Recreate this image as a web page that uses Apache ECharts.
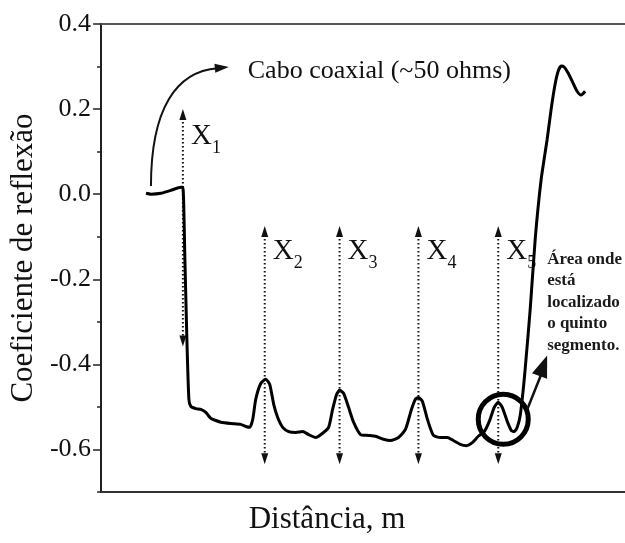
<!DOCTYPE html>
<html>
<head>
<meta charset="utf-8">
<script src="https://cdn.jsdelivr.net/npm/echarts@6/dist/echarts.min.js"></script>
<style>
  html, body { margin: 0; padding: 0; background: #fff; }
  #chart { width: 625px; height: 543px; }
</style>
</head>
<body>
<div id="chart"></div>
<script>
// TDR trace along the cable: distance (arbitrary units) vs reflection coefficient
const distance = [9, 10, 12, 14, 16, 16.4, 16.8, 17.2, 17.6, 18, 19, 20, 21, 22, 23, 24, 26, 28, 29, 29.8,
  30.4, 31, 32, 33, 33.8, 34.6, 35.4, 36.4, 37.6, 39, 40.4, 41.6, 43, 44.4, 45.6, 46.4, 47.2, 47.8, 48.6, 49.6,
  50.6, 52, 53.6, 55, 56.6, 58, 59.6, 61, 62.2, 63, 63.6, 64.4, 65.4, 66.6, 68, 69.4, 70.6, 72, 73.2, 74.4,
  75.6, 76.8, 77.8, 78.8, 79.6, 80.4, 81.4, 82.2, 82.8, 83.4, 84, 84.6, 85, 86, 87, 88.2, 89.4, 90.2, 91, 91.6,
  92.2, 92.8, 93.6, 94.6, 95.4, 96.2, 97];
const reflection = [0.002, 0.0, 0.002, 0.009, 0.016, 0.016, -0.153, -0.341, -0.482, -0.499, -0.504, -0.506, -0.513, -0.527, -0.532, -0.536, -0.539, -0.541, -0.546, -0.548,
  -0.529, -0.482, -0.445, -0.435, -0.447, -0.494, -0.525, -0.548, -0.558, -0.560, -0.558, -0.565, -0.572, -0.562, -0.548, -0.506, -0.471, -0.461, -0.468, -0.501,
  -0.536, -0.565, -0.567, -0.569, -0.576, -0.579, -0.572, -0.553, -0.506, -0.482, -0.478, -0.487, -0.529, -0.567, -0.572, -0.572, -0.579, -0.588, -0.591, -0.584,
  -0.569, -0.558, -0.534, -0.501, -0.489, -0.501, -0.534, -0.555, -0.558, -0.548, -0.52, -0.46, -0.41, -0.271, -0.106, 0.035, 0.129, 0.2, 0.259, 0.289,
  0.301, 0.299, 0.285, 0.261, 0.242, 0.233, 0.242];

// Axis ticks
const yLabelTicks = [-0.6, -0.4, -0.2, 0, 0.2, 0.4];
const yMinorTicks = [-0.7, -0.5, -0.3, -0.1, 0.1, 0.3];

// Segment boundaries X1..X5 (distance)
const segmentPositions = [16.4, 32.8, 47.8, 63.6, 79.6];
const segmentNames = ['1', '2', '3', '4', '5'];

const serif = '"Liberation Serif", "Times New Roman", serif';
const ink = '#111';

const chart = echarts.init(document.getElementById('chart'), null, { renderer: 'canvas' });

chart.setOption({
  animation: false,
  backgroundColor: '#fff',
  grid: { left: 100, right: 0, top: 24, bottom: 51 },
  xAxis: [
    {
      type: 'value', min: 0, max: 105, position: 'bottom',
      axisLine: { show: true, onZero: false, lineStyle: { color: '#333', width: 2 } },
      axisTick: { show: false }, axisLabel: { show: false }, splitLine: { show: false },
      name: 'Distância, m', nameLocation: 'middle', nameGap: 12,
      nameTextStyle: { fontFamily: serif, fontSize: 31, color: ink, padding: [0, 72, 0, 0] }
    },
    {
      type: 'value', min: 0, max: 105, position: 'top',
      axisLine: { show: true, onZero: false, lineStyle: { color: '#555', width: 2 } },
      axisTick: { show: false }, axisLabel: { show: false }, splitLine: { show: false }
    }
  ],
  yAxis: [
    {
      type: 'value', min: -0.7, max: 0.4, position: 'left',
      axisLine: { show: true, onZero: false, lineStyle: { color: '#222', width: 2 } },
      axisTick: { show: true, customValues: yLabelTicks, length: 8, lineStyle: { color: '#222', width: 1.5 } },
      axisLabel: {
        customValues: yLabelTicks, formatter: v => v.toFixed(1), margin: 10,
        fontFamily: serif, fontSize: 26, color: ink
      },
      splitLine: { show: false },
      name: 'Coeficiente de reflexão', nameLocation: 'middle', nameRotate: 90, nameGap: 62,
      nameTextStyle: { fontFamily: serif, fontSize: 31, color: ink }
    },
    {
      type: 'value', min: -0.7, max: 0.4, position: 'left',
      axisLine: { show: false, onZero: false },
      axisTick: { show: true, customValues: yMinorTicks, length: 4, lineStyle: { color: '#222', width: 1.5 } },
      axisLabel: { show: false }, splitLine: { show: false }
    }
  ],
  series: [{
    type: 'line', xAxisIndex: 0, yAxisIndex: 0,
    data: distance.map((d, i) => [d, reflection[i]]),
    showSymbol: false, smooth: 0.2,
    lineStyle: { color: '#000', width: 3 }
  }]
});

// Annotation layer, anchored to data coordinates
const P = (x, y) => chart.convertToPixel({ xAxisIndex: 0, yAxisIndex: 0 }, [x, y]);

function arrowHead(tip, from, len, halfW) {
  const dx = tip[0] - from[0], dy = tip[1] - from[1];
  const L = Math.hypot(dx, dy), ux = dx / L, uy = dy / L;
  const bx = tip[0] - ux * len, by = tip[1] - uy * len;
  return {
    type: 'polygon', silent: true,
    shape: { points: [tip, [bx - uy * halfW, by + ux * halfW], [bx + uy * halfW, by - ux * halfW]] },
    style: { fill: ink }
  };
}

const graphics = [];

segmentPositions.forEach((sx, i) => {
  const top = P(sx, i === 0 ? 0.2 : -0.075);
  const bot = P(sx, i === 0 ? -0.358 : -0.635);
  graphics.push({
    type: 'line', silent: true,
    shape: { x1: top[0], y1: top[1] + 9, x2: bot[0], y2: bot[1] - 9 },
    style: { stroke: ink, lineWidth: 2, lineDash: [1.5, 2.5] }
  });
  graphics.push(arrowHead(top, [top[0], top[1] + 20], 11, 3.5));
  graphics.push(arrowHead(bot, [bot[0], bot[1] - 20], 11, 3.5));
  const lab = P(sx, i === 0 ? 0.1365 : -0.135);
  graphics.push({
    type: 'text', silent: true, x: lab[0] + 8, y: lab[1],
    style: { text: 'X', font: '29px ' + serif, fill: ink, verticalAlign: 'middle', align: 'left' }
  });
  graphics.push({
    type: 'text', silent: true, x: lab[0] + 29, y: lab[1] + 12,
    style: { text: segmentNames[i], font: '18px ' + serif, fill: ink, verticalAlign: 'middle', align: 'left' }
  });
});

// Curved arrow pointing to the coaxial cable label
const c0 = P(10, 0.019), c1 = P(10, 0.2), c2 = P(15, 0.289), c3 = P(23, 0.296), cTip = P(25.6, 0.299);
graphics.push({
  type: 'bezierCurve', silent: true,
  shape: { x1: c0[0], y1: c0[1], cpx1: c1[0], cpy1: c1[1], cpx2: c2[0], cpy2: c2[1], x2: c3[0] + 2, y2: c3[1] },
  style: { stroke: ink, lineWidth: 2, fill: null }
});
graphics.push(arrowHead(cTip, c3, 14, 4.5));
const cabo = P(29.4, 0.289);
graphics.push({
  type: 'text', silent: true, x: cabo[0], y: cabo[1],
  style: { text: 'Cabo coaxial (~50 ohms)', font: '26px ' + serif, fill: ink, verticalAlign: 'middle', align: 'left' }
});

// Circle marking the fifth segment, with arrow to its note
const cc = P(80.6, -0.529);
graphics.push({
  type: 'circle', silent: true, shape: { cx: cc[0], cy: cc[1], r: 25 },
  style: { stroke: '#000', lineWidth: 5, fill: null }
});
const a0 = P(85.4, -0.506), aTip = P(89.4, -0.379);
graphics.push({
  type: 'line', silent: true,
  shape: { x1: a0[0], y1: a0[1], x2: aTip[0] - 4, y2: aTip[1] + 14 },
  style: { stroke: ink, lineWidth: 2.5 }
});
graphics.push(arrowHead(aTip, a0, 22, 8));
const note = P(89.4, -0.153);
graphics.push({
  type: 'text', silent: true, x: note[0], y: note[1] - 10.75,
  style: {
    text: 'Área onde\nestá\nlocalizado\no quinto\nsegmento.',
    font: 'bold 17px ' + serif, lineHeight: 21.5, fill: '#1a1a1a', verticalAlign: 'top', align: 'left'
  }
});

chart.setOption({ graphic: graphics });
</script>
</body>
</html>
